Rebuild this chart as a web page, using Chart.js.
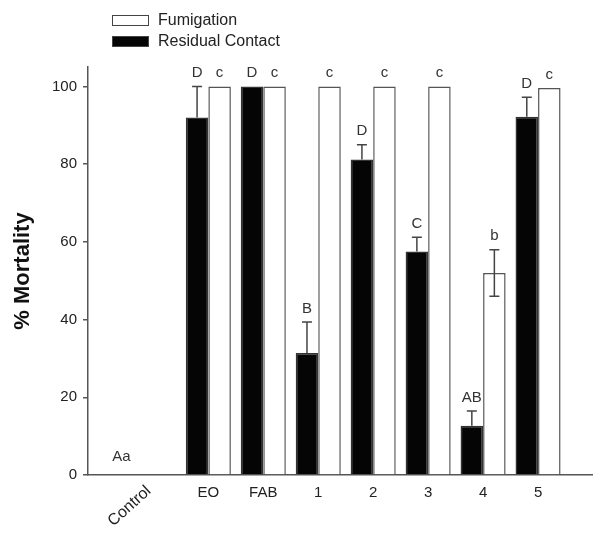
<!DOCTYPE html>
<html>
<head>
<meta charset="utf-8">
<script src="https://cdn.jsdelivr.net/npm/chart.js@4"></script>
<style>
  body { margin: 0; background: #fff; }
  #wrap { width: 593px; height: 535px; }
</style>
</head>
<body>
<div id="wrap"><canvas id="chart"></canvas></div>
<script>
// values
const categories = ['Control', 'EO', 'FAB', '1', '2', '3', '4', '5'];
const residual = [0, 92, 100, 31.4, 81.2, 57.5, 12.7, 92.2];
const residualErr = [0, 8, 0, 8, 3.8, 3.7, 3.8, 5];
const residualLetters = ['', 'D', 'D', 'B', 'D', 'C', 'AB', 'D'];
const fumigation = [0, 100, 100, 100, 100, 100, 52, 99.6];
const fumigationErr = [0, 0, 0, 0, 0, 0, 6, 0];
const fumigationLetters = ['', 'c', 'c', 'c', 'c', 'c', 'b', 'c'];
const controlLetters = 'Aa';
const yTicks = [0, 20, 40, 60, 80, 100];

const FONT = "'Liberation Sans', Arial, sans-serif";
const AXIS = '#555';

const toPoints = arr => arr.map((v, i) => ({ x: i, y: v }));

// error bars + letters above bars
const annotate = {
  id: 'annotate',
  afterDatasetsDraw(chart) {
    const ctx = chart.ctx;
    const y = chart.scales.y;
    const errs = [residualErr, fumigationErr];
    const letters = [residualLetters, fumigationLetters];
    ctx.save();
    chart.data.datasets.forEach((ds, d) => {
      const meta = chart.getDatasetMeta(d);
      meta.data.forEach((bar, i) => {
        const v = ds.data[i].y;
        const e = errs[d][i];
        let top = bar.y;
        if (e > 0) {
          const yHi = y.getPixelForValue(v + e);
          ctx.strokeStyle = '#444';
          ctx.lineWidth = 1.5;
          ctx.beginPath();
          ctx.moveTo(bar.x, bar.y); ctx.lineTo(bar.x, yHi);
          ctx.moveTo(bar.x - 5, yHi); ctx.lineTo(bar.x + 5, yHi);
          if (d === 1) {
            // lower whisker only shows on the white bars
            const yLo = y.getPixelForValue(v - e);
            ctx.moveTo(bar.x, bar.y); ctx.lineTo(bar.x, yLo);
            ctx.moveTo(bar.x - 5, yLo); ctx.lineTo(bar.x + 5, yLo);
          }
          ctx.stroke();
          top = yHi;
        }
        const txt = letters[d][i];
        if (txt) {
          ctx.fillStyle = '#333';
          ctx.font = '15px ' + FONT;
          ctx.textAlign = 'center';
          ctx.textBaseline = 'bottom';
          ctx.fillText(txt, bar.x, top - 6);
        }
      });
    });
    // control group letters
    const x = chart.scales.x;
    ctx.font = '15px ' + FONT;
    ctx.fillStyle = '#333';
    ctx.textAlign = 'center';
    ctx.textBaseline = 'bottom';
    ctx.fillText(controlLetters, x.getPixelForValue(0) - 32, y.getPixelForValue(0) - 11);

    // rotated Control label
    ctx.save();
    ctx.font = '16px ' + FONT;
    ctx.translate(x.getPixelForValue(0) - 10, y.getPixelForValue(0) + 8);
    ctx.rotate(-42 * Math.PI / 180);
    ctx.textAlign = 'right';
    ctx.textBaseline = 'top';
    ctx.fillStyle = '#222';
    ctx.fillText(categories[0], 0, 0);
    ctx.restore();

    // legend (Fumigation on top)
    ctx.font = '16px ' + FONT;
    const items = [chart.data.datasets[1], chart.data.datasets[0]];
    items.forEach((ds, k) => {
      const ty = 15 + k * 21;
      ctx.fillStyle = ds.backgroundColor;
      ctx.fillRect(112, ty, 37, 11);
      ctx.strokeStyle = '#444';
      ctx.lineWidth = 1;
      ctx.strokeRect(112.5, ty + 0.5, 36, 10);
      ctx.fillStyle = '#222';
      ctx.textAlign = 'left';
      ctx.textBaseline = 'middle';
      ctx.fillText(ds.label, 158, ty + 6);
    });
    ctx.restore();
  }
};

new Chart(document.getElementById('chart'), {
  type: 'bar',
  data: {
    datasets: [{
      label: 'Residual Contact',
      data: toPoints(residual),
      backgroundColor: '#050505',
      borderColor: '#333',
      borderWidth: 1.5,
      categoryPercentage: 0.82,
      barPercentage: 1.0
    }, {
      label: 'Fumigation',
      data: toPoints(fumigation),
      backgroundColor: '#ffffff',
      borderColor: '#555',
      borderWidth: 1.5,
      categoryPercentage: 0.82,
      barPercentage: 1.0
    }]
  },
  options: {
    responsive: true,
    maintainAspectRatio: false,
    animation: false,
    layout: { padding: { top: 67, right: 0, bottom: 0, left: 0 } },
    plugins: { legend: { display: false }, tooltip: { enabled: false } },
    scales: {
      x: {
        type: 'linear',
        offset: false,
        min: -1.19,
        max: 8.0,
        afterBuildTicks: s => { s.ticks = categories.map((c, i) => ({ value: i })); },
        afterFit: s => { s.height = 60; },
        grid: { display: false },
        border: { display: true, color: AXIS, width: 1.5 },
        ticks: {
          padding: 1,
          color: '#222',
          font: { family: FONT, size: 15 },
          maxRotation: 0,
          autoSkip: false,
          callback: v => (v > 0 && Number.isInteger(v)) ? categories[v] : ''
        }
      },
      y: {
        min: 0,
        max: 105,
        afterBuildTicks: s => { s.ticks = yTicks.map(v => ({ value: v })); },
        afterFit: s => { s.width = 88; },
        grid: { drawOnChartArea: false, drawTicks: true, tickLength: 5, color: AXIS, lineWidth: 1.5 },
        border: { display: true, color: AXIS, width: 1.5 },
        ticks: { padding: 6, color: '#222', font: { family: FONT, size: 15 } },
        title: {
          display: true,
          text: '% Mortality',
          color: '#111',
          font: { family: FONT, size: 22, weight: 'bold' },
          padding: { top: 10, bottom: 0 }
        }
      }
    }
  },
  plugins: [annotate]
});
</script>
</body>
</html>
